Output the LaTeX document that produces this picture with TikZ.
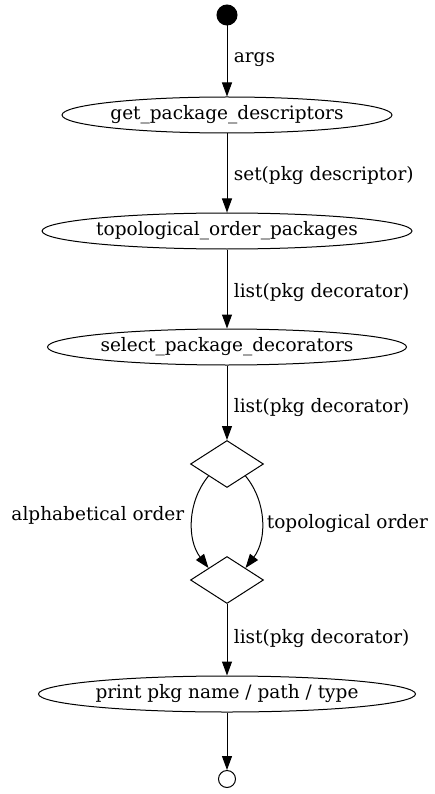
\documentclass[tikz,border=0pt]{standalone}
\usepackage{fontspec}
\setmainfont{DejaVu Serif}
\usetikzlibrary{shapes.geometric, arrows.meta}
\begin{document}
\begin{tikzpicture}[x=1pt, y=-1pt, line width=1pt, font=\fontsize{18.5}{22}\selectfont,
        >={Triangle[length=14pt, width=10pt]},
        state/.style={draw, ellipse, minimum height=36pt, inner sep=0pt},
        choice/.style={draw, diamond, minimum width=73pt, minimum height=47pt, inner sep=0pt},
        lbl/.style={anchor=west}]
        \useasboundingbox (0, 0) rectangle (434, 794);
        \node[circle, fill = black, draw, minimum size=20pt, inner sep=0pt] (start) at (227, 15) {};
        \node[state, minimum width=330pt] (get) at (227, 115) {get\_package\_descriptors};
        \node[state, minimum width=369pt] (topo) at (227, 231) {topological\_order\_packages};
        \node[state, minimum width=359pt] (select) at (227, 347) {select\_package\_decorators};
        \node[choice] (split) at (227, 464) {};
        \node[choice] (join) at (227, 580) {};
        \node[state, minimum width=377pt] (print) at (227, 694) {print pkg name / path / type};
        \node[circle, draw, minimum size=17pt, inner sep=0pt] (stop) at (227, 779) {};
        \draw[->] (start) -- (get);
        \node[lbl] (l1) at (230, 60) {args};
        \draw[->] (get) -- (topo);
        \node[lbl] (l2) at (230, 176) {set(pkg descriptor)};
        \draw[->] (topo) -- (select);
        \node[lbl] (l3) at (230, 293) {list(pkg decorator)};
        \draw[->] (select) -- (split);
        \node[lbl] (l4) at (230, 408) {list(pkg decorator)};
        \draw[->] (split.south west) .. controls (187, 502) and (187, 540) .. (join.north west);
        \node[anchor=east] (l5) at (188, 515) {alphabetical order};
        \draw[->] (split.south east) .. controls (267, 502) and (267, 540) .. (join.north east);
        \node[lbl] (l6) at (263, 524) {topological order};
        \draw[->] (join) -- (print);
        \node[lbl] (l7) at (230, 639) {list(pkg decorator)};
        \draw[->] (print) -- (stop);
    \end{tikzpicture}
\end{document}
